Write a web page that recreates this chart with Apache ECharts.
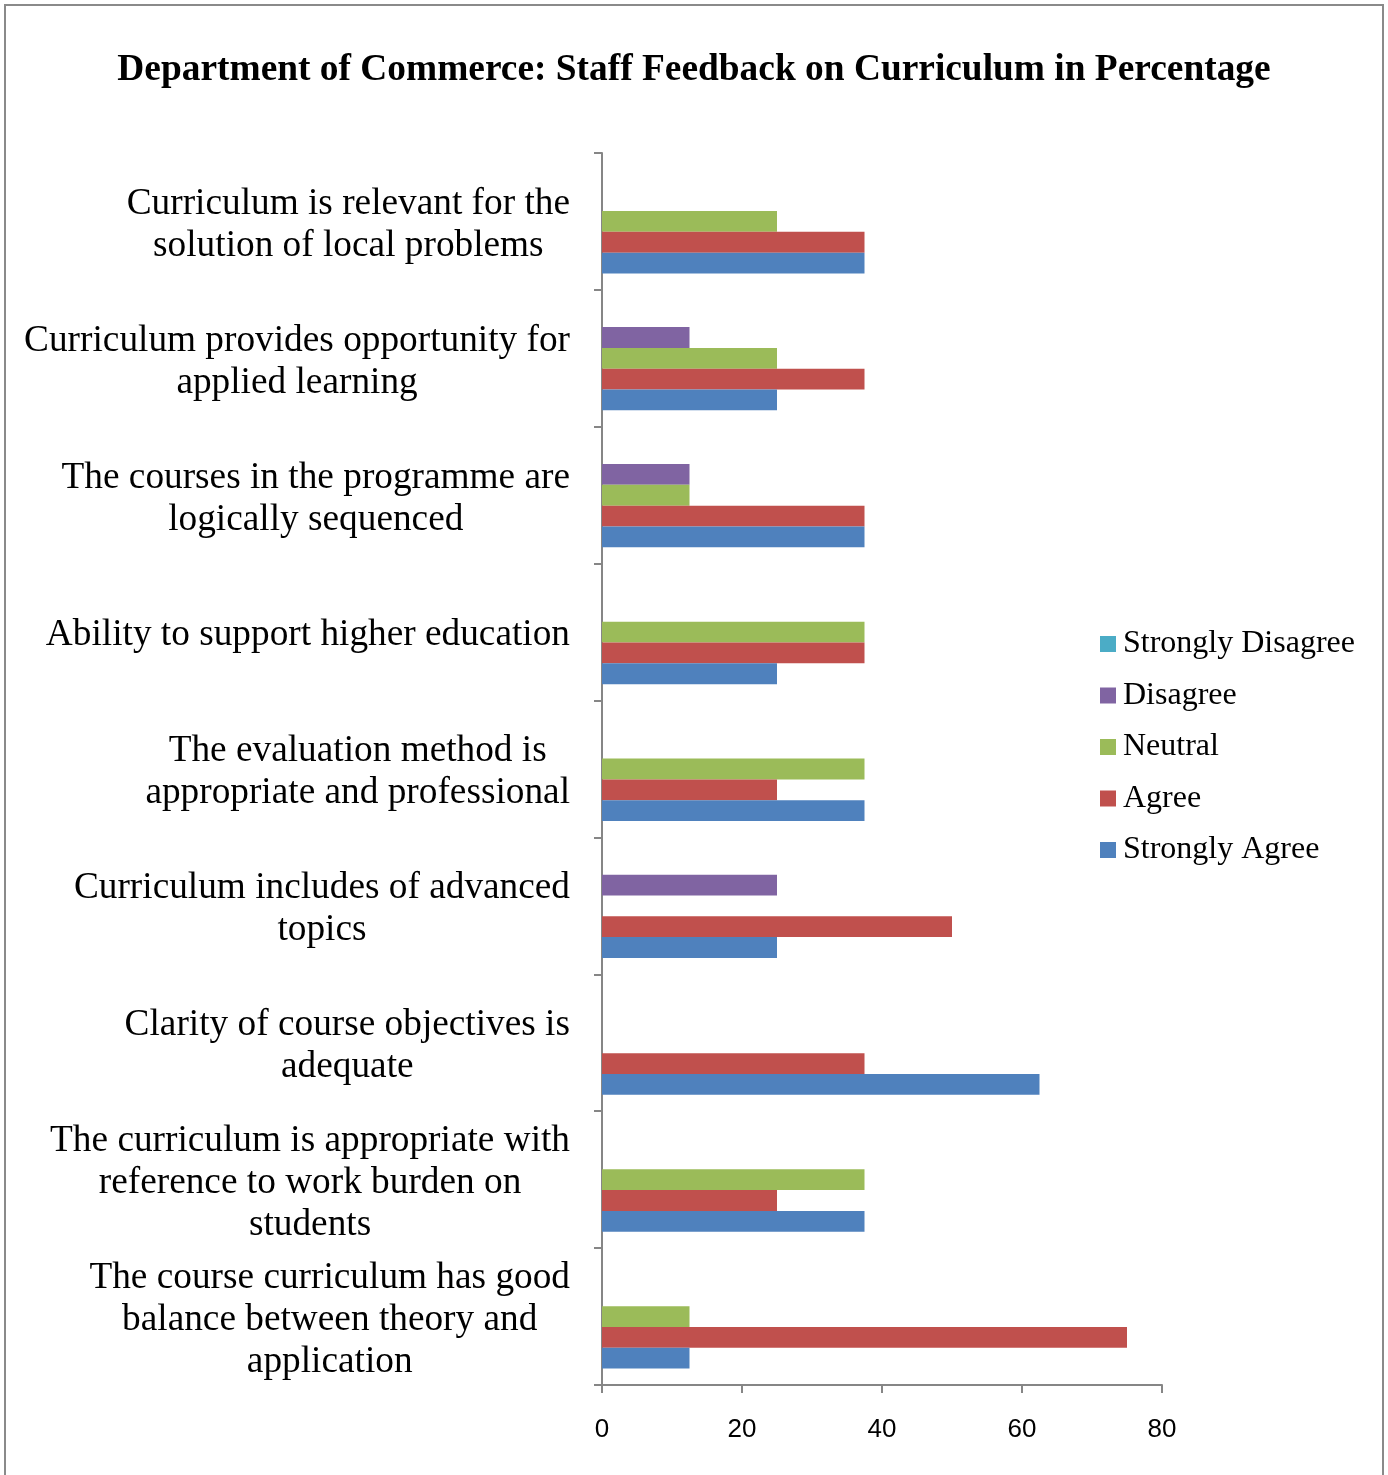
<!DOCTYPE html>
<html>
<head>
<meta charset="utf-8">
<script src="https://cdn.jsdelivr.net/npm/echarts@6/dist/echarts.min.js"></script>
<style>
  html, body { margin: 0; padding: 0; background: #fff; }
  #wrap { position: relative; width: 1388px; height: 1475px; overflow: hidden; }
  #frame { position: absolute; left: 4px; top: 4px; width: 1380px; height: 1520px; border: 2px solid #8a8a8a; box-sizing: border-box; }
  #chart { position: absolute; left: 0; top: 0; width: 1388px; height: 1475px; }
</style>
</head>
<body>
<div id="wrap">
  <div id="frame"></div>
  <div id="chart"></div>
</div>
<script>
// Categories, top to bottom as in the picture
const categories = [
  "Curriculum is relevant for the\nsolution of local problems",
  "Curriculum provides opportunity for\napplied learning",
  "The courses in the programme are\nlogically sequenced",
  "Ability to support higher education",
  "The evaluation method is\nappropriate and professional",
  "Curriculum includes of advanced\ntopics",
  "Clarity of course objectives is\nadequate",
  "The curriculum is appropriate with\nreference to work burden on\nstudents",
  "The course curriculum has good\nbalance between theory and\napplication"
];

const stronglyAgree    = [37.5, 25,   37.5, 25,   37.5, 25, 62.5, 37.5, 12.5];
const agree            = [37.5, 37.5, 37.5, 37.5, 25,   50, 37.5, 25,   75];
const neutral          = [25,   25,   12.5, 37.5, 37.5, 0,  0,    37.5, 12.5];
const disagree         = [0,    12.5, 12.5, 0,    0,    25, 0,    0,    0];
const stronglyDisagree = [0,    0,    0,    0,    0,    0,  0,    0,    0];

const xTicks = [0, 20, 40, 60, 80];

const seriesNames = ["Strongly Disagree", "Disagree", "Neutral", "Agree", "Strongly Agree"];
const seriesData = [stronglyDisagree, disagree, neutral, agree, stronglyAgree];
const seriesColors = ["#4BACC6", "#8064A2", "#9BBB59", "#C0504D", "#4F81BD"];

const serif = "'Liberation Serif', 'Times New Roman', serif";

const chart = echarts.init(document.getElementById('chart'), null, { renderer: 'canvas' });

const option = {
  backgroundColor: 'transparent',
  animation: false,
  title: {
    text: 'Department of Commerce: Staff Feedback on Curriculum in Percentage',
    left: 'center',
    top: 47,
    textStyle: { fontFamily: serif, fontWeight: 'bold', fontSize: 37.4, color: '#000' }
  },
  legend: {
    orient: 'vertical',
    left: 1095,
    top: 623,
    itemWidth: 16,
    itemHeight: 16,
    itemGap: 19.5,
    icon: 'rect',
    data: seriesNames,
    textStyle: { fontFamily: serif, fontSize: 32, color: '#000', lineHeight: 32, padding: [0, 0, 0, 2] }
  },
  grid: { left: 602, right: 226, top: 153, bottom: 90, containLabel: false },
  xAxis: {
    type: 'value',
    min: xTicks[0],
    max: xTicks[xTicks.length - 1],
    interval: 20,
    splitLine: { show: false },
    axisLine: { show: true, lineStyle: { color: '#868686', width: 2 } },
    axisTick: { show: true, length: 8, inside: false, lineStyle: { color: '#868686', width: 2 } },
    axisLabel: {
      margin: 32,
      fontFamily: "'Liberation Sans Narrow', 'Liberation Sans', sans-serif",
      fontSize: 26,
      color: '#000'
    }
  },
  yAxis: {
    type: 'category',
    data: categories,
    inverse: true,
    axisLine: { show: true, lineStyle: { color: '#868686', width: 2 } },
    axisTick: { show: true, length: 8, inside: false, lineStyle: { color: '#868686', width: 2 } },
    axisLabel: {
      interval: 0,
      margin: 32,
      align: 'right',
      padding: [7, 0, 0, 0],
      formatter: function (v) {
        return v.split('\n').map(function (l) { return '{a|' + l + '}'; }).join('\n');
      },
      rich: {
        a: { fontFamily: serif, fontSize: 37.3, lineHeight: 42, color: '#000', align: 'center' }
      }
    }
  },
  series: seriesNames.map(function (name, i) {
    return {
      name: name,
      type: 'bar',
      data: seriesData[i],
      barGap: '0%',
      barCategoryGap: '24%',
      itemStyle: { color: seriesColors[i] }
    };
  })
};

chart.setOption(option);
</script>
</body>
</html>
